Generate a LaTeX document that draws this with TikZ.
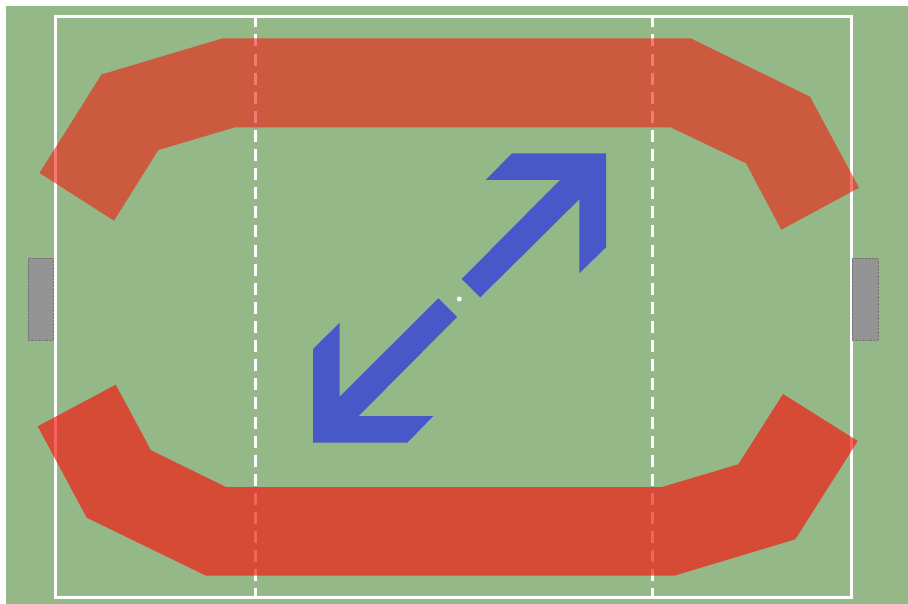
\documentclass[tikz,border=0pt]{standalone}
\definecolor{pitch}{RGB}{148,184,136}
\definecolor{zonetop}{RGB}{245,20,8}
\definecolor{zonebot}{RGB}{246,24,16}
\definecolor{runblue}{RGB}{72,88,200}
\definecolor{goalgray}{RGB}{148,148,148}
\begin{document}
\begin{tikzpicture}[x=1pt, y=-1pt, line join=miter,
	fieldline/.style={draw=white, line width=3pt},
	goal/.style={fill=goalgray, draw=black!55, line width=0.4pt, densely dotted}]
	
	\useasboundingbox (0,0) rectangle (908,604);
	
	% Pitch
	\fill[pitch] (6,6) rectangle (908,604);
	
	% Field lines
	\draw[fieldline] (55,17) rectangle (851,597);
	\foreach \linex in {255,652}
		\draw[fieldline, dash pattern=on 12pt off 7.1pt, dash phase=1.6pt] (\linex,17) -- (\linex,597);
	
	% Goals
	\draw[goal] (28.3,258.3) rectangle (52.7,340);
	\draw[goal] (852.3,258.3) rectangle (877.7,340);
	
	% Top zone
	\fill[zonetop, opacity=0.57] (39.5,173) -- (101.5,74.5) -- (222,38.5) -- (691,38.5) -- (810,96.7) -- (859,187.7)
		-- (781.3,229.7) -- (746,163.3) -- (670.7,127.3) -- (235,127.3) -- (158.3,150) -- (114,220.7) -- cycle;
	
	% Bottom zone
	\fill[zonebot, opacity=0.68] (37.7,426.3) -- (115.7,384.7) -- (151,450.3) -- (226,487) -- (662,487) -- (738.3,464.3)
		-- (783,394) -- (857.7,441) -- (795.3,539.3) -- (674.3,575.7) -- (206,575.7) -- (86.7,517.7) -- cycle;
	
	% Arrows
	\fill[runblue] (461.7,279) -- (560,180) -- (485.7,180) -- (512,153.3) -- (606,153.3) -- (606,247.3)
		-- (579.3,273.3) -- (579.3,199.3) -- (480.3,297.3) -- cycle;
	\fill[runblue] (438.3,298.3) -- (339.7,396.7) -- (339.7,322.7) -- (313,349) -- (313,442.7) -- (407.3,442.7)
		-- (433.3,416) -- (358.7,416) -- (457,317) -- cycle;
	
	% Kick-off spot
	\fill[white] (459.3,299) circle (2.5pt);
	
\end{tikzpicture}
\end{document}
